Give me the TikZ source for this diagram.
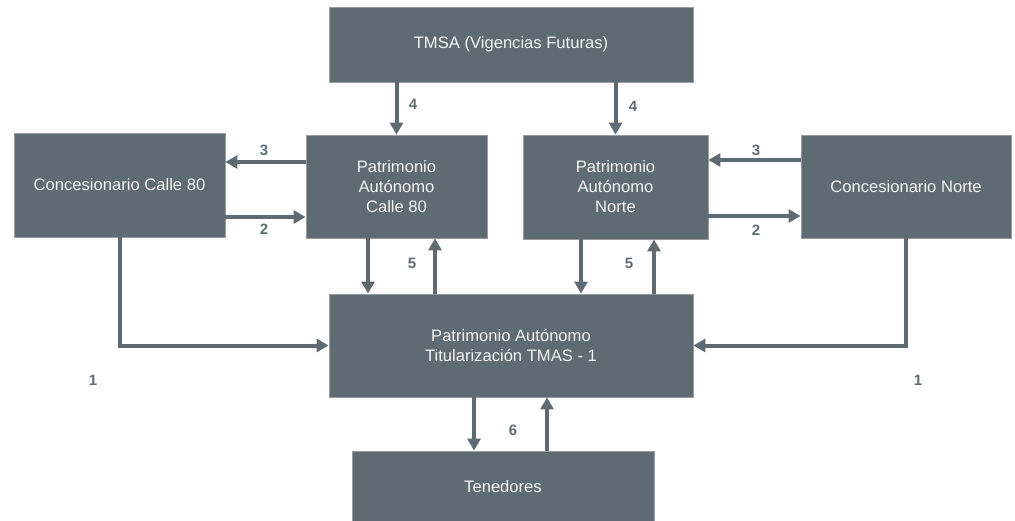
\documentclass[tikz,border=0pt]{standalone}
\usepackage{fontspec}
\setmainfont{Liberation Sans}
\usetikzlibrary{arrows.meta}
\definecolor{boxgray}{RGB}{95,107,115}
\definecolor{edgegray}{RGB}{150,156,160}
\definecolor{txtgray}{RGB}{244,244,244}

\begin{document}
\begin{tikzpicture}[x=1pt, y=-1pt,
		box/.style={draw=edgegray, line width=0.8pt, fill=boxgray, text=txtgray, align=center, inner sep=0pt, font=\fontsize{16.6}{20}\selectfont},
		flow/.style={draw=boxgray, line width=4pt, -{Triangle[width=13pt,length=12pt]}},
		num/.style={text=boxgray, font=\fontsize{15}{18}\selectfont\bfseries}]
			%%%%% START %%%%%
			
			\useasboundingbox (0, 0) rectangle (1015, 520);
			
			\node[box, minimum width=364pt, minimum height=75pt] (tmsa) at (511, 44.5) {TMSA (Vigencias Futuras)};
			
			\node[box, minimum width=211pt, minimum height=104pt] (c80) at (119.5, 185) {Concesionario Calle 80};
			\node[box, minimum width=181pt, minimum height=103pt] (pa80) at (396.5, 186.5) {Patrimonio\\Autónomo\\Calle 80};
			\node[box, minimum width=185pt, minimum height=104pt] (pan) at (615.5, 187) {Patrimonio\\Autónomo\\Norte};
			\node[box, minimum width=210pt, minimum height=103pt] (cn) at (906, 186.5) {Concesionario Norte};
			
			\node[box, minimum width=364pt, minimum height=103pt] (tit) at (511, 345.5) {Patrimonio Autónomo\\Titularización TMAS - 1};
			\node[box, minimum width=302pt, minimum height=72pt] (ten) at (503, 487) {Tenedores};
			
			% vigencias futuras
			\draw[flow] (tmsa.south -| pa80.north) -- (pa80.north);
			\draw[flow] (tmsa.south -| pan.north) -- (pan.north);
			
			% fiducias - concesionarios
			\draw[flow] ([yshift=24.5pt]pa80.west) -- ([yshift=23pt]c80.east);
			\draw[flow] ([yshift=-32pt]c80.east) -- ([yshift=-30.5pt]pa80.west);
			\draw[flow] ([yshift=26.5pt]cn.west) -- ([yshift=27pt]pan.east);
			\draw[flow] ([yshift=-29pt]pan.east) -- ([yshift=-29.5pt]cn.west);
			
			% fiducias - titularizacion
			\draw[flow] ([xshift=-28.5pt]pa80.south) -- ([xshift=-143pt]tit.north);
			\draw[flow] ([xshift=-76pt]tit.north) -- ([xshift=38.5pt]pa80.south);
			\draw[flow] ([xshift=-34.5pt]pan.south) -- ([xshift=70pt]tit.north);
			\draw[flow] ([xshift=143pt]tit.north) -- ([xshift=38.5pt]pan.south);
			
			\draw[flow] (c80.south) |- (tit.west);
			\draw[flow] (cn.south) |- (tit.east);
			
			% tenedores
			\draw[flow] ([xshift=-37pt]tit.south) -- ([xshift=-29pt]ten.north);
			\draw[flow] ([xshift=44pt]ten.north) -- ([xshift=36pt]tit.south);
			
			\node[num] (n4a) at (413, 104) {4};
			\node[num] (n4b) at (633, 106) {4};
			\node[num] (n3a) at (264, 150) {3};
			\node[num] (n2a) at (264, 229) {2};
			\node[num] (n3b) at (756, 150) {3};
			\node[num] (n2b) at (756, 230) {2};
			\node[num] (n5a) at (412, 263) {5};
			\node[num] (n5b) at (629, 263) {5};
			\node[num] (n1a) at (93, 380) {1};
			\node[num] (n1b) at (918, 380) {1};
			\node[num] (n6) at (513, 430) {6};
			
			%%%%% END %%%%%
\end{tikzpicture}
\end{document}
